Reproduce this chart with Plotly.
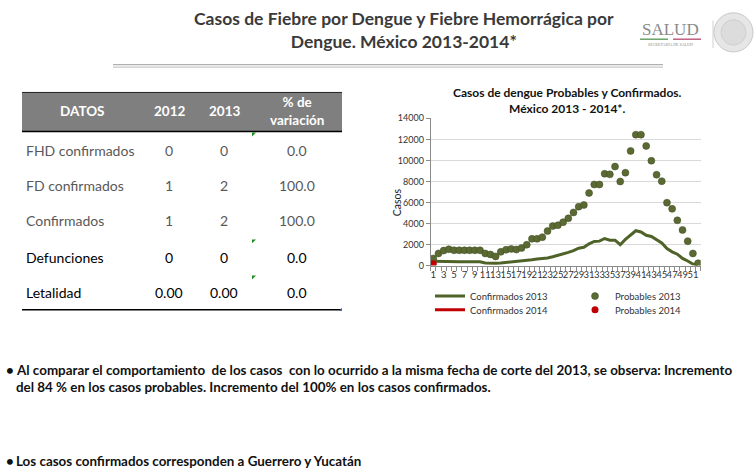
import plotly.graph_objects as go

W, H = 754, 474

# ---------------- data ----------------
weeks_2013 = list(range(1, 53))
probables_2013 = [680, 1150, 1420, 1550, 1450, 1450, 1450, 1450, 1450, 1450,
                  1150, 1050, 870, 1300, 1500, 1580, 1520, 1670, 1980, 2540,
                  2540, 2700, 3280, 3750, 3840, 4120, 4490, 5050, 5600, 5760,
                  6900, 7710, 7710, 8730, 8670, 9410, 7990, 8830, 10900, 12450,
                  12450, 11370, 9970, 8640, 8020, 5980, 5390, 4300, 3380, 2320,
                  1150, 220]
confirmados_2013 = [400, 380, 370, 360, 360, 360, 360, 360, 360, 350,
                    240, 210, 220, 250, 300, 330, 350, 400, 480, 550,
                    620, 650, 720, 830, 950, 1080, 1250, 1420, 1650, 1730,
                    2070, 2290, 2320, 2570, 2410, 2410, 1980, 2480, 2910, 3310,
                    3190, 2880, 2760, 2410, 2140, 1610, 1300, 1080, 680, 430,
                    150, 60]
weeks_2014 = [1]
probables_2014 = [180]
confirmados_2014 = [2]

x_tick_vals = list(range(1, 53, 2))
x_tick_text = [str(v) for v in x_tick_vals]
y_tick_vals = list(range(0, 14001, 2000))

table_header = ["DATOS", "2012", "2013", "% de<br>variación"]
row_labels = ["FHD confirmados", "FD confirmados", "Confirmados", "Defunciones", "Letalidad"]
values_2012 = ["0", "1", "1", "0", "0.00"]
values_2013 = ["0", "2", "2", "0", "0.00"]
variacion = ["0.0", "100.0", "100.0", "0.0", "0.0"]

OLIVE = "#4f6228"
OLIVE_DOT = "#5b6a32"
RED = "#c00000"
FONT = "Lato"


def px(x):
    return x / W


def py(y):
    return 1 - y / H


fig = go.Figure()

fig.add_trace(go.Scatter(x=weeks_2013, y=confirmados_2013, mode="lines", name="Confirmados 2013",
                         line=dict(color=OLIVE, width=3), legend="legend"))
fig.add_trace(go.Scatter(x=weeks_2014, y=confirmados_2014, mode="lines", name="Confirmados 2014",
                         line=dict(color=RED, width=3), legend="legend2"))
fig.add_trace(go.Scatter(x=weeks_2013, y=probables_2013, mode="markers", name="Probables 2013",
                         marker=dict(color=OLIVE_DOT, size=7, line=dict(color="#3f4a22", width=0.5)),
                         legend="legend3"))
fig.add_trace(go.Scatter(x=weeks_2014, y=probables_2014, mode="markers", name="Probables 2014",
                         marker=dict(color=RED, size=7), legend="legend4"))

shapes = []
annotations = []


def note(x, y, text, font, xanchor="center", **kw):
    annotations.append(dict(x=px(x), y=py(y), xref="paper", yref="paper", text=text, showarrow=False,
                            xanchor=xanchor, yanchor="middle", font=font, **kw))


# ---------------- slide header ----------------
note(404, 25, "<b>Casos de Fiebre por Dengue y Fiebre Hemorrágica por<br>Dengue. México 2013-2014*</b>",
     dict(family=FONT, size=17.5, color="#3a3a3a"), align="center")
# double gray separator
shapes.append(dict(type="line", xref="paper", yref="paper", x0=px(113), x1=px(663), y0=py(60), y1=py(60),
                   line=dict(color="#b0b0b0", width=1.2)))
shapes.append(dict(type="line", xref="paper", yref="paper", x0=px(113), x1=px(663), y0=py(62.5), y1=py(62.5),
                   line=dict(color="#c8c8c8", width=1.2)))
# SALUD logo
note(670, 24, "SALUD", dict(family="Liberation Serif", size=17, color="#8a8a8a"))
shapes.append(dict(type="line", xref="paper", yref="paper", x0=px(640), x1=px(668), y0=py(34), y1=py(34),
                   line=dict(color="#6aa36a", width=1.5)))
shapes.append(dict(type="line", xref="paper", yref="paper", x0=px(673), x1=px(701), y0=py(34), y1=py(34),
                   line=dict(color="#c06080", width=1.5)))
note(670, 39, "SECRETARÍA DE SALUD", dict(family="Liberation Serif", size=4, color="#8a8a8a"))
shapes.append(dict(type="line", xref="paper", yref="paper", x0=px(713), x1=px(713), y0=py(15), y1=py(43),
                   line=dict(color="#d0d0d0", width=1)))
shapes.append(dict(type="circle", xref="paper", yref="paper", x0=px(714), x1=px(753), y0=py(47), y1=py(7),
                   line=dict(color="#c8c8c8", width=1), fillcolor="#e6e6e6"))
shapes.append(dict(type="circle", xref="paper", yref="paper", x0=px(721), x1=px(746), y0=py(40), y1=py(14),
                   line=dict(color="#cfcfcf", width=1), fillcolor="#dcdcdc"))

# ---------------- table ----------------
shapes.append(dict(type="rect", xref="paper", yref="paper", x0=px(22), x1=px(342), y0=py(128), y1=py(88.5),
                   fillcolor="#7f7f7f", line=dict(width=0)))
shapes.append(dict(type="line", xref="paper", yref="paper", x0=px(22), x1=px(342), y0=py(88.5), y1=py(88.5),
                   line=dict(color="#202020", width=1)))
shapes.append(dict(type="line", xref="paper", yref="paper", x0=px(22), x1=px(342), y0=py(128.5), y1=py(128.5),
                   line=dict(color="#000000", width=1.5)))
shapes.append(dict(type="line", xref="paper", yref="paper", x0=px(22), x1=px(342), y0=py(311), y1=py(311),
                   line=dict(color="#000000", width=1.5)))
# small green cell markers
for yy in [129.5, 239, 276]:
    shapes.append(dict(type="path", xref="paper", yref="paper",
                       path=f"M {px(252)} {py(yy)} L {px(256)} {py(yy)} L {px(252)} {py(yy + 4)} Z",
                       fillcolor="#1f8a1f", line=dict(width=0)))
shapes.append(dict(type="path", xref="paper", yref="paper",
                   path=f"M {px(342)} {py(309)} L {px(342)} {py(312)} L {px(339)} {py(312)} Z",
                   fillcolor="#4060b0", line=dict(width=0)))

header_x = [82, 169, 224, 297]
for hx, ht in zip(header_x, table_header):
    note(hx, 108, f"<b>{ht}</b>", dict(family=FONT, size=13.5, color="white"), align="center")

row_y = [147.5, 183.5, 220, 257.5, 293]
for i, (lab, v12, v13, var) in enumerate(zip(row_labels, values_2012, values_2013, variacion)):
    col = "#595959" if i < 3 else "#000000"
    note(24, row_y[i], lab, dict(family=FONT, size=14, color=col), xanchor="left")
    for cx, val in zip(header_x[1:], [v12, v13, var]):
        note(cx, row_y[i], val, dict(family=FONT, size=14, color=col))

# ---------------- chart texts ----------------
note(567, 97, "<b>Casos de dengue Probables y Confirmados.<br>México 2013 - 2014*.</b>",
     dict(family=FONT, size=12, color="#111111"), align="center")
note(397, 201, "Casos", dict(family=FONT, size=10.5, color="#222222"), textangle=-90)

# ---------------- bottom text ----------------
bt_font = dict(family=FONT, size=13.4, color="#111111")
note(4, 373, "<b>•</b>", bt_font, xanchor="left")
note(14, 373, "<b>Al comparar el comportamiento  de los casos  con lo ocurrido a la misma fecha de corte del 2013, se observa: Incremento</b>",
     bt_font, xanchor="left")
note(14, 390, "<b>del 84 % en los casos probables. Incremento del 100% en los casos confirmados.</b>",
     bt_font, xanchor="left")
note(4, 466, "<b>•</b>", bt_font, xanchor="left")
note(14, 466, "<b>Los casos confirmados corresponden a Guerrero y Yucatán</b>", bt_font, xanchor="left")

leg_common = dict(xanchor="left", yanchor="middle", bgcolor="rgba(0,0,0,0)",
                  font=dict(family=FONT, size=9.5, color="#333333"), itemwidth=30)

fig.update_layout(
    width=W, height=H,
    margin=dict(l=0, r=0, t=0, b=0),
    paper_bgcolor="white", plot_bgcolor="white",
    font=dict(family=FONT, color="#333333"),
    shapes=shapes, annotations=annotations,
    xaxis=dict(domain=[px(430.7), px(700.7)], range=[0.5, 52.5],
               tickmode="array", tickvals=x_tick_vals, ticktext=x_tick_text, tickangle=0,
               ticks="", showgrid=False, zeroline=False,
               showline=True, linecolor="#8c8c8c", linewidth=1,
               tickfont=dict(family=FONT, size=9.5, color="#333333"),
               minor=dict(tickmode="linear", tick0=0.5, dtick=1, ticks="outside", ticklen=4,
                          tickcolor="#8c8c8c", showgrid=False),
               fixedrange=True),
    yaxis=dict(domain=[py(265.7), py(115)], range=[0, 14000],
               tickmode="array", tickvals=y_tick_vals, tickformat="d",
               showgrid=True, gridcolor="#d9d9d9", gridwidth=1, zeroline=False,
               showline=True, linecolor="#8c8c8c", linewidth=1,
               ticks="outside", ticklen=4, tickcolor="#8c8c8c",
               tickfont=dict(family=FONT, size=9, color="#333333"),
               fixedrange=True),
    showlegend=True,
    legend=dict(x=px(430), y=py(297), **leg_common),
    legend2=dict(x=px(430), y=py(311), **leg_common),
    legend3=dict(x=px(575), y=py(297), **leg_common),
    legend4=dict(x=px(575), y=py(311), **leg_common),
)

fig.write_html("out.html", config={"displayModeBar": False},
               post_script="document.body.style.margin='0px';document.body.style.overflow='hidden';")
